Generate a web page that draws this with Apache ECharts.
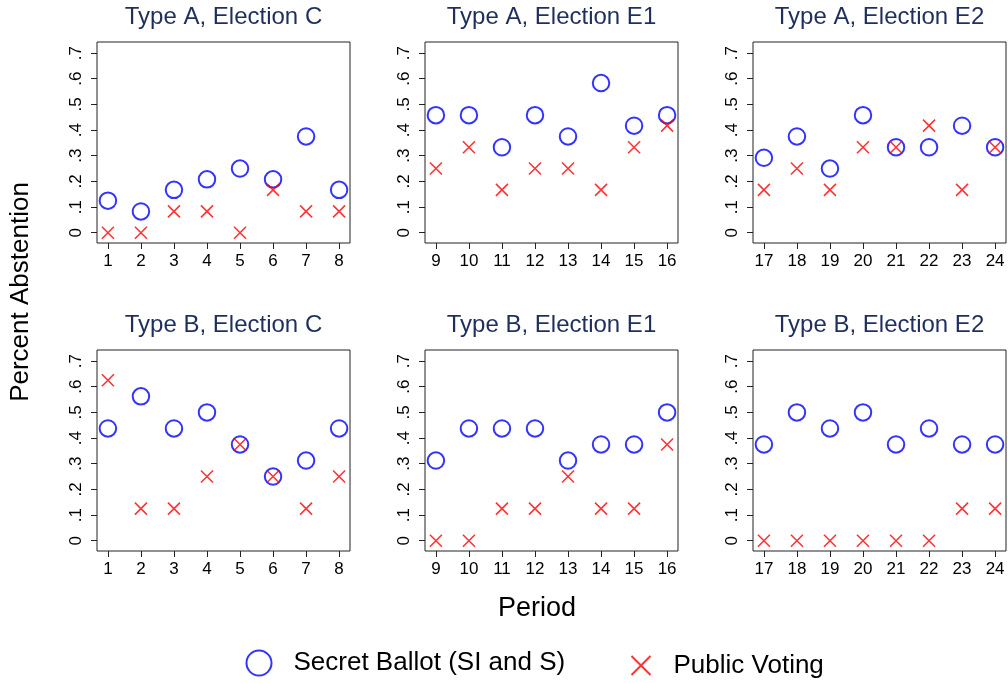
<!DOCTYPE html>
<html>
<head>
<meta charset="utf-8">
<script src="https://cdn.jsdelivr.net/npm/echarts@6/dist/echarts.min.js"></script>
<style>
  html, body { margin: 0; padding: 0; background: #ffffff; }
  #chart { width: 1008px; height: 683px; }
</style>
</head>
<body>
<div id="chart"></div>
<script>
// Periods per election
const periodsC  = [1, 2, 3, 4, 5, 6, 7, 8];
const periodsE1 = [9, 10, 11, 12, 13, 14, 15, 16];
const periodsE2 = [17, 18, 19, 20, 21, 22, 23, 24];

// Share of abstention, Type A
const secretAC  = [0.125, 0.083, 0.167, 0.208, 0.25, 0.208, 0.375, 0.167];
const publicAC  = [0, 0, 0.083, 0.083, 0, 0.167, 0.083, 0.083];
const secretAE1 = [0.458, 0.458, 0.333, 0.458, 0.375, 0.583, 0.417, 0.458];
const publicAE1 = [0.25, 0.333, 0.167, 0.25, 0.25, 0.167, 0.333, 0.417];
const secretAE2 = [0.292, 0.375, 0.25, 0.458, 0.333, 0.333, 0.417, 0.333];
const publicAE2 = [0.167, 0.25, 0.167, 0.333, 0.333, 0.417, 0.167, 0.333];

// Share of abstention, Type B
const secretBC  = [0.4375, 0.5625, 0.4375, 0.5, 0.375, 0.25, 0.3125, 0.4375];
const publicBC  = [0.625, 0.125, 0.125, 0.25, 0.375, 0.25, 0.125, 0.25];
const secretBE1 = [0.3125, 0.4375, 0.4375, 0.4375, 0.3125, 0.375, 0.375, 0.5];
const publicBE1 = [0, 0, 0.125, 0.125, 0.25, 0.125, 0.125, 0.375];
const secretBE2 = [0.375, 0.5, 0.4375, 0.5, 0.375, 0.4375, 0.375, 0.375];
const publicBE2 = [0, 0, 0, 0, 0, 0, 0.125, 0.125];

// Panel titles and axis ticks
const panelTitles = [
  'Type A, Election C', 'Type A, Election E1', 'Type A, Election E2',
  'Type B, Election C', 'Type B, Election E1', 'Type B, Election E2'
];
const yTickValues = [0, 0.1, 0.2, 0.3, 0.4, 0.5, 0.6, 0.7];
const yTickLabels = ['0', '.1', '.2', '.3', '.4', '.5', '.6', '.7'];

const SECRET = 'Secret Ballot (SI and S)';
const PUBLIC = 'Public Voting';

const FONT = "'Liberation Sans', Arial, Helvetica, sans-serif";

const panels = [
  { periods: periodsC,  secret: secretAC,  pub: publicAC },
  { periods: periodsE1, secret: secretAE1, pub: publicAE1 },
  { periods: periodsE2, secret: secretAE2, pub: publicAE2 },
  { periods: periodsC,  secret: secretBC,  pub: publicBC },
  { periods: periodsE1, secret: secretBE1, pub: publicBE1 },
  { periods: periodsE2, secret: secretBE2, pub: publicBE2 }
];

// Grid geometry (3 columns x 2 rows)
const colLeft = [97, 425, 753];
const rowTop = [42, 350];
const plotW = 253;
const plotH = 201;

const grids = [], xAxes = [], yAxes = [], series = [], titles = [];

panels.forEach((p, i) => {
  const col = i % 3, row = Math.floor(i / 3);
  grids.push({
    left: colLeft[col], top: rowTop[row], width: plotW, height: plotH,
    show: true, borderColor: '#222', borderWidth: 1, backgroundColor: '#fff'
  });
  xAxes.push({
    type: 'value', gridIndex: i, position: 'bottom',
    min: p.periods[0] - 0.33, max: p.periods[p.periods.length - 1] + 0.33,
    axisLine: { show: false, onZero: false },
    splitLine: { show: false },
    axisTick: { show: true, inside: false, length: 6, customValues: p.periods,
                lineStyle: { color: '#222', width: 1 } },
    axisLabel: { show: true, customValues: p.periods, margin: 10,
                 color: '#000', fontFamily: FONT, fontSize: 17,
                 formatter: v => String(v) }
  });
  yAxes.push({
    type: 'value', gridIndex: i, position: 'left', min: -0.04, max: 0.743,
    axisLine: { show: false, onZero: false },
    splitLine: { show: false },
    axisTick: { show: true, inside: false, length: 6, customValues: yTickValues,
                lineStyle: { color: '#222', width: 1 } },
    axisLabel: { show: true, customValues: yTickValues, rotate: 90, margin: 12,
                 color: '#000', fontFamily: FONT, fontSize: 17,
                 formatter: v => yTickLabels[Math.round(v * 10)] }
  });
  series.push({
    name: SECRET, type: 'scatter', xAxisIndex: i, yAxisIndex: i,
    data: p.periods.map((x, k) => [x, p.secret[k]]),
    symbol: 'circle', symbolSize: 16.5,
    itemStyle: { color: 'transparent', borderColor: '#0000ff', borderWidth: 2 },
    emphasis: { disabled: true }, z: 2
  });
  series.push({
    name: PUBLIC, type: 'scatter', xAxisIndex: i, yAxisIndex: i,
    data: p.periods.map((x, k) => [x, p.pub[k]]),
    symbol: 'path://M0 0L10 10M10 0L0 10', symbolSize: 12,
    itemStyle: { color: 'transparent', borderColor: '#ff0000', borderWidth: 1.6 },
    emphasis: { disabled: true }, z: 3
  });
  titles.push({
    text: panelTitles[i],
    left: colLeft[col] + plotW / 2, textAlign: 'center',
    top: rowTop[row] - 36.5, padding: 0,
    textStyle: { color: '#1e2f5e', fontFamily: FONT, fontSize: 24, fontWeight: 'normal' }
  });
});

const chart = echarts.init(document.getElementById('chart'), null, { renderer: 'canvas' });
chart.setOption({
  animation: false,
  backgroundColor: '#ffffff',
  title: titles,
  grid: grids,
  xAxis: xAxes,
  yAxis: yAxes,
  series: series,
  legend: [
    {
      data: [SECRET], left: 245.5, top: 649.5, padding: 0,
      itemWidth: 25, itemHeight: 25, selectedMode: false,
      itemStyle: { borderWidth: 2 },
      textStyle: { color: '#000', fontFamily: FONT, fontSize: 26, padding: [0, 0, 0, 17] }
    },
    {
      data: [PUBLIC], left: 630.5, top: 652.5, padding: 0,
      itemWidth: 19, itemHeight: 19, selectedMode: false,
      itemStyle: { borderWidth: 2 },
      textStyle: { color: '#000', fontFamily: FONT, fontSize: 26, padding: [0, 0, 0, 18] }
    }
  ],
  graphic: [
    {
      type: 'text', x: 21, y: 292, rotation: Math.PI / 2,
      style: { text: 'Percent Abstention', fill: '#000', font: '26px ' + FONT,
               align: 'center', verticalAlign: 'middle' }
    },
    {
      type: 'text', x: 537, y: 609,
      style: { text: 'Period', fill: '#000', font: '27px ' + FONT,
               align: 'center', verticalAlign: 'middle' }
    }
  ]
});
</script>
</body>
</html>
